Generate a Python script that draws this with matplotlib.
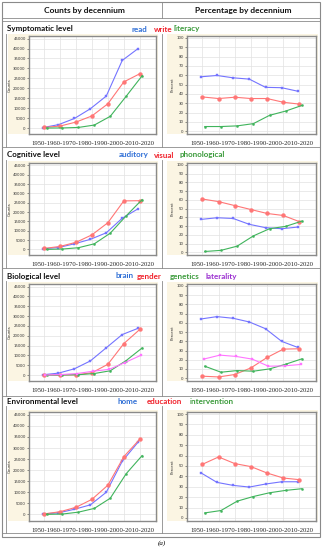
import matplotlib.pyplot as plt
from matplotlib.patches import Rectangle

W, H = 324, 550  # figure size in pixels

years_label = "1950-1960-1970-1980-1990-2000-2010-2020"
decades = ["1950-1960", "1960-1970", "1970-1980", "1980-1990",
           "1990-2000", "2000-2010", "2010-2020"]

count_ticks = [0, 5000, 10000, 15000, 20000, 25000, 30000, 35000, 40000, 45000]
percent_ticks = [0, 10, 20, 30, 40, 50, 60, 70, 80, 90, 100]

# Symptomatic level
symptomatic_terms = ["read", "write", "literacy"]
symptomatic_counts = [
    [200, 1700, 4800, 9700, 16100, 34000, 40000],
    [300, 1000, 3000, 6100, 12200, 23200, 27300],
    [0, 50, 300, 1500, 5900, 16000, 26300],
]
symptomatic_percent = [
    [58.3, 59.7, 57.2, 55.8, 47.0, 46.6, 42.8],
    [36.7, 35.0, 36.4, 35.0, 35.0, 31.0, 29.0],
    [5.0, 5.0, 5.7, 8.1, 17.0, 21.6, 27.6],
]

# Cognitive level
cognitive_terms = ["auditory", "visual", "phonological"]
cognitive_counts = [
    [350, 1000, 3000, 5400, 8900, 16700, 21800],
    [500, 1600, 3800, 7800, 14300, 26000, 26100],
    [0, 200, 900, 3000, 8700, 18000, 26700],
]
cognitive_percent = [
    [37.6, 39.5, 38.7, 32.0, 28.2, 27.0, 28.9],
    [60.9, 57.9, 53.4, 48.9, 44.4, 42.1, 35.0],
    [1.0, 2.3, 7.1, 18.8, 27.0, 29.7, 35.7],
]

# Biological level
biological_terms = ["brain", "gender", "genetics", "laterality"]
biological_counts = [
    [150, 1000, 3200, 7200, 13900, 20600, 23800],
    [0, 0, 150, 1200, 5500, 16000, 23200],
    [0, 50, 200, 800, 2200, 7400, 13800],
    [50, 300, 800, 2000, 2900, 6400, 10100],
]
biological_percent = [
    [64.1, 66.7, 64.9, 60.9, 53.6, 39.9, 33.3],
    [2.2, 1.4, 4.0, 11.2, 22.5, 31.5, 31.9],
    [13.0, 6.5, 8.3, 7.6, 10.1, 15.2, 21.0],
    [20.7, 25.0, 23.6, 20.7, 13.0, 13.4, 14.9],
]

# Environmental level
environmental_terms = ["home", "education", "intervention"]
environmental_counts = [
    [200, 700, 2300, 4300, 10000, 24000, 32700],
    [200, 1200, 3200, 6800, 13200, 26100, 34000],
    [0, 150, 1000, 2700, 7300, 18400, 26600],
]
environmental_percent = [
    [43.5, 34.2, 31.3, 29.7, 32.6, 34.8, 34.8],
    [51.6, 58.7, 52.3, 49.4, 43.2, 38.4, 36.8],
    [4.8, 7.1, 16.1, 20.6, 24.2, 26.5, 28.1],
]

levels = ["Symptomatic level", "Cognitive level", "Biological level",
          "Environmental level"]

# styling: line colour, marker, marker size, x offset
line_styles = [
    ("#7474ff", "s", 1.8, -0.1),
    ("#ff7676", "o", 2.8, 0.0),
    ("#40b45c", "o", 1.5, 0.15),
    ("#ff74ff", "s", 1.8, 0.08),
]
word_colors = ["#2f6fd6", "#f0202a", "#3a9a3a", "#9b30d0"]

# pixel layout: (title y, plot top, plot bottom)
rows = [(29, 36, 134), (155, 163, 255), (276, 284, 381), (401, 412, 521)]
legend_x = [
    [132, 154, 174],
    [119, 154, 180],
    [116, 137, 170, 205],
    [117, 147, 190],
]
row_lines = [21, 147, 268, 396, 533]  # horizontal rules between rows
LEFT_PLOT = (29, 156)
RIGHT_PLOT = (187, 316)
BEIGE = "#fbf5e3"
FRAME = "#8a8a8a"


def px_axes(fig, left, top, right, bottom):
    """Add an axes given its box in pixels (top-left origin)."""
    return fig.add_axes([left / W, 1 - bottom / H, (right - left) / W,
                         (bottom - top) / H])


def draw_panel(ax, series, ticks, ylim, ylabel):
    """Draw one line chart of the figure."""
    for values, (color, marker, ms, dx) in zip(series, line_styles):
        x = [i + dx for i in range(len(decades))]
        ax.plot(x, values, color=color, lw=0.8, marker=marker, ms=ms,
                mfc=color, mec=color, mew=0.3)
    ax.set_xlim(-0.95, 7.02)
    ax.set_ylim(*ylim)
    ax.set_xticks(range(len(decades)))
    ax.set_xticklabels([])
    ax.set_yticks(ticks)
    ax.set_yticklabels([str(t) for t in ticks])
    ax.tick_params(axis="y", labelsize=2.8, length=1.2, width=0.4, pad=1.2,
                   colors="#333333")
    ax.tick_params(axis="x", length=0)
    ax.grid(color="#e2e2e2", lw=0.5)
    ax.set_axisbelow(True)
    for spine in ax.spines.values():
        spine.set_color(FRAME)
        spine.set_linewidth(1.0)
    ax.set_ylabel(ylabel, fontsize=2.8, labelpad=1.2, color="#333333")
    ax.set_xlabel(years_label, fontsize=4.8, family="Liberation Serif",
                  labelpad=1.5, color="#222222")


def main():
    fig = plt.figure(figsize=(W / 100, H / 100), dpi=100)
    bg = fig.add_axes([0, 0, 1, 1])
    bg.set_xlim(0, W)
    bg.set_ylim(H, 0)
    bg.axis("off")

    # outer frame, header rules and column divider in the header
    bg.add_patch(Rectangle((2, 2), 318, 535, fill=False, ec=FRAME, lw=0.8))
    bg.plot([2, 320], [18, 18], color=FRAME, lw=0.6)
    bg.plot([162, 162], [2, 18], color=FRAME, lw=0.6)
    for y in row_lines:
        bg.plot([2, 320], [y, y], color=FRAME, lw=0.6)

    bg.text(84, 11, "Counts by decennium", ha="center", va="center",
            fontsize=6, family="Lato", weight="bold", color="#111111")
    bg.text(243, 11, "Percentage by decennium", ha="center", va="center",
            fontsize=6, family="Lato", weight="bold", color="#111111")
    bg.text(162, 543, "(a)", ha="center", va="center", fontsize=5,
            family="Liberation Serif", style="italic")

    all_terms = [symptomatic_terms, cognitive_terms, biological_terms,
                 environmental_terms]
    all_counts = [symptomatic_counts, cognitive_counts, biological_counts,
                  environmental_counts]
    all_percent = [symptomatic_percent, cognitive_percent, biological_percent,
                   environmental_percent]

    for r, (ty, top, bottom) in enumerate(rows):
        bg.text(7, ty, levels[r], ha="left", va="center", fontsize=5.8,
                family="Lato", weight="bold", color="#111111")
        for word, x, c in zip(all_terms[r], legend_x[r], word_colors):
            bg.text(x, ty, word, ha="left", va="center", fontsize=5.8,
                    family="Lato", weight="bold", color=c)
        # cell borders below the title line
        y0, y1 = ty + 5, row_lines[r + 1]
        for x in (6, 162):
            bg.plot([x, x], [y0, y1], color=FRAME, lw=0.6)
        # beige backgrounds behind each chart
        bg.add_patch(Rectangle((8, top - 2), LEFT_PLOT[1] + 2 - 8,
                               bottom - top + 2, color=BEIGE, lw=0))
        bg.add_patch(Rectangle((167, top - 2), RIGHT_PLOT[1] + 2 - 167,
                               bottom - top + 2, color=BEIGE, lw=0))

        ax_c = px_axes(fig, LEFT_PLOT[0], top, LEFT_PLOT[1], bottom)
        draw_panel(ax_c, all_counts[r], count_ticks, (-3000, 46300), "Counts")
        ax_p = px_axes(fig, RIGHT_PLOT[0], top, RIGHT_PLOT[1], bottom)
        draw_panel(ax_p, all_percent[r], percent_ticks, (-3, 102), "Percent")

    fig.savefig("out.png", dpi=100)


if __name__ == "__main__":
    main()
